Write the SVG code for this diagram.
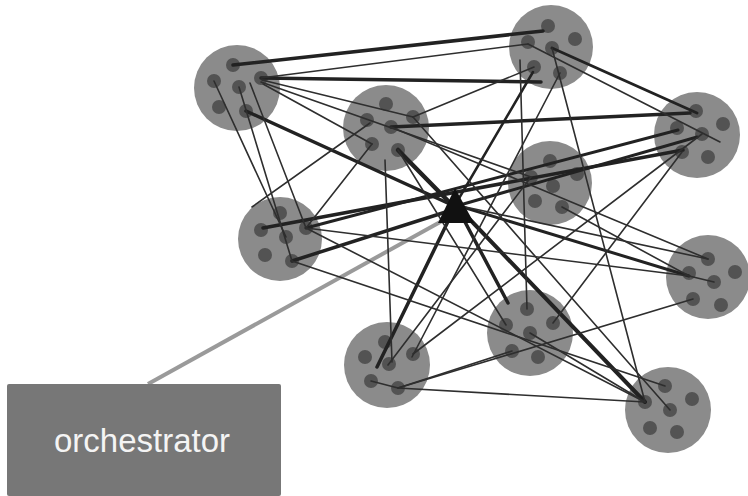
<svg xmlns="http://www.w3.org/2000/svg" width="748" height="496" viewBox="0 0 748 496">
  <style>
    .cl { fill: #8b8b8b; }
    .dot { fill: #535353; }
    .thick { stroke: #222; stroke-linecap: round; fill: none; }
    .thin { stroke: #2e2e2e; stroke-width: 1.6; stroke-linecap: round; fill: none; }
    .feed { stroke: #9a9a9a; stroke-width: 4; fill: none; }
    .label { font-family: "Liberation Sans", Arial, sans-serif; font-size: 33px; fill: #f4f4f4; }
  </style>

  <!-- clusters: a grey disc holding six member dots -->
  <g id="cluster-a">
    <circle class="cl" cx="237" cy="88" r="43"/>
    <circle class="dot" cx="233" cy="65" r="7"/><circle class="dot" cx="214" cy="81" r="7"/>
    <circle class="dot" cx="239" cy="87" r="7"/><circle class="dot" cx="261" cy="78" r="7"/>
    <circle class="dot" cx="219" cy="107" r="7"/><circle class="dot" cx="246" cy="111" r="7"/>
  </g>
  <g id="cluster-b">
    <circle class="cl" cx="386" cy="128" r="43"/>
    <circle class="dot" cx="386" cy="104" r="7"/><circle class="dot" cx="367" cy="120" r="7"/>
    <circle class="dot" cx="413" cy="117" r="7"/><circle class="dot" cx="391" cy="127" r="7"/>
    <circle class="dot" cx="372" cy="144" r="7"/><circle class="dot" cx="398" cy="150" r="7"/>
  </g>
  <g id="cluster-c">
    <circle class="cl" cx="551" cy="47" r="42"/>
    <circle class="dot" cx="548" cy="26" r="7"/><circle class="dot" cx="575" cy="39" r="7"/>
    <circle class="dot" cx="528" cy="42" r="7"/><circle class="dot" cx="552" cy="48" r="7"/>
    <circle class="dot" cx="534" cy="67" r="7"/><circle class="dot" cx="560" cy="73" r="7"/>
  </g>
  <g id="cluster-d">
    <circle class="cl" cx="697" cy="135" r="43"/>
    <circle class="dot" cx="696" cy="111" r="7"/><circle class="dot" cx="723" cy="124" r="7"/>
    <circle class="dot" cx="677" cy="128" r="7"/><circle class="dot" cx="702" cy="134" r="7"/>
    <circle class="dot" cx="682" cy="152" r="7"/><circle class="dot" cx="708" cy="157" r="7"/>
  </g>
  <g id="cluster-e">
    <circle class="cl" cx="550" cy="183" r="42"/>
    <circle class="dot" cx="550" cy="161" r="7"/><circle class="dot" cx="531" cy="177" r="7"/>
    <circle class="dot" cx="577" cy="174" r="7"/><circle class="dot" cx="553" cy="186" r="7"/>
    <circle class="dot" cx="535" cy="201" r="7"/><circle class="dot" cx="562" cy="207" r="7"/>
  </g>
  <g id="cluster-f">
    <circle class="cl" cx="280" cy="239" r="42"/>
    <circle class="dot" cx="280" cy="213" r="7"/><circle class="dot" cx="261" cy="230" r="7"/>
    <circle class="dot" cx="306" cy="228" r="7"/><circle class="dot" cx="286" cy="237" r="7"/>
    <circle class="dot" cx="265" cy="255" r="7"/><circle class="dot" cx="292" cy="261" r="7"/>
  </g>
  <g id="cluster-g">
    <circle class="cl" cx="708" cy="277" r="42"/>
    <circle class="dot" cx="708" cy="259" r="7"/><circle class="dot" cx="735" cy="272" r="7"/>
    <circle class="dot" cx="689" cy="273" r="7"/><circle class="dot" cx="714" cy="282" r="7"/>
    <circle class="dot" cx="693" cy="299" r="7"/><circle class="dot" cx="721" cy="305" r="7"/>
  </g>
  <g id="cluster-h">
    <circle class="cl" cx="387" cy="365" r="43"/>
    <circle class="dot" cx="385" cy="342" r="7"/><circle class="dot" cx="365" cy="357" r="7"/>
    <circle class="dot" cx="413" cy="354" r="7"/><circle class="dot" cx="389" cy="364" r="7"/>
    <circle class="dot" cx="371" cy="381" r="7"/><circle class="dot" cx="398" cy="388" r="7"/>
  </g>
  <g id="cluster-i">
    <circle class="cl" cx="530" cy="333" r="43"/>
    <circle class="dot" cx="527" cy="309" r="7"/><circle class="dot" cx="553" cy="323" r="7"/>
    <circle class="dot" cx="506" cy="325" r="7"/><circle class="dot" cx="530" cy="333" r="7"/>
    <circle class="dot" cx="512" cy="351" r="7"/><circle class="dot" cx="538" cy="357" r="7"/>
  </g>
  <g id="cluster-j">
    <circle class="cl" cx="668" cy="410" r="43"/>
    <circle class="dot" cx="665" cy="386" r="7"/><circle class="dot" cx="692" cy="399" r="7"/>
    <circle class="dot" cx="645" cy="402" r="7"/><circle class="dot" cx="670" cy="410" r="7"/>
    <circle class="dot" cx="650" cy="428" r="7"/><circle class="dot" cx="677" cy="432" r="7"/>
  </g>

  <!-- links between member dots and to the hub -->
  <g id="connectors">
    <line class="feed" x1="148" y1="384" x2="442" y2="221"/>

    <line class="thick" stroke-width="3.5" x1="233" y1="65" x2="543" y2="31"/>
    <line class="thick" stroke-width="3.5" x1="261" y1="78" x2="541" y2="82"/>
    <line class="thick" stroke-width="3.5" x1="246" y1="111" x2="452" y2="205"/>
    <line class="thick" stroke-width="4.5" x1="398" y1="150" x2="452" y2="205"/>
    <line class="thick" stroke-width="3.5" x1="391" y1="127" x2="690" y2="113"/>
    <line class="thick" stroke-width="3" x1="552" y1="48" x2="697" y2="113"/>
    <line class="thick" stroke-width="2.5" x1="458" y1="200" x2="533" y2="72"/>
    <line class="thick" stroke-width="3.5" x1="263" y1="228" x2="683" y2="150"/>
    <line class="thick" stroke-width="3" x1="306" y1="228" x2="678" y2="130"/>
    <line class="thick" stroke-width="3.5" x1="292" y1="261" x2="452" y2="210"/>
    <line class="thick" stroke-width="3" x1="456" y1="205" x2="689" y2="276"/>
    <line class="thick" stroke-width="3.5" x1="456" y1="205" x2="377" y2="367"/>
    <line class="thick" stroke-width="3.5" x1="456" y1="205" x2="508" y2="303"/>
    <line class="thick" stroke-width="4" x1="456" y1="205" x2="645" y2="402"/>
    <line class="thick" stroke-width="3" x1="460" y1="205" x2="697" y2="137"/>

    <line class="thin" x1="261" y1="78" x2="528" y2="44"/>
    <line class="thin" x1="262" y1="80" x2="413" y2="117"/>
    <line class="thin" x1="263" y1="84" x2="372" y2="144"/>
    <line class="thin" x1="261" y1="82" x2="531" y2="177"/>
    <line class="thin" x1="214" y1="81" x2="286" y2="237"/>
    <line class="thin" x1="239" y1="87" x2="292" y2="261"/>
    <line class="thin" x1="250" y1="83" x2="306" y2="228"/>
    <line class="thin" x1="370" y1="123" x2="252" y2="207"/>
    <line class="thin" x1="372" y1="144" x2="306" y2="228"/>
    <line class="thin" x1="385" y1="160" x2="392" y2="362"/>
    <line class="thin" x1="413" y1="117" x2="534" y2="67"/>
    <line class="thin" x1="391" y1="127" x2="708" y2="259"/>
    <line class="thin" x1="413" y1="117" x2="670" y2="410"/>
    <line class="thin" x1="398" y1="150" x2="506" y2="325"/>
    <line class="thin" x1="520" y1="60" x2="527" y2="309"/>
    <line class="thin" x1="552" y1="48" x2="645" y2="402"/>
    <line class="thin" x1="528" y1="44" x2="720" y2="142"/>
    <line class="thin" x1="562" y1="207" x2="689" y2="276"/>
    <line class="thin" x1="456" y1="205" x2="708" y2="259"/>
    <line class="thin" x1="306" y1="228" x2="689" y2="276"/>
    <line class="thin" x1="306" y1="228" x2="645" y2="402"/>
    <line class="thin" x1="292" y1="261" x2="665" y2="386"/>
    <line class="thin" x1="530" y1="333" x2="645" y2="402"/>
    <line class="thin" x1="682" y1="152" x2="553" y2="323"/>
    <line class="thin" x1="702" y1="134" x2="413" y2="354"/>
    <line class="thin" x1="398" y1="388" x2="512" y2="351"/>
    <line class="thin" x1="398" y1="388" x2="645" y2="402"/>
    <line class="thin" x1="693" y1="299" x2="398" y2="388"/>
    <line class="thin" x1="371" y1="381" x2="398" y2="388"/>
    <line class="thin" x1="531" y1="177" x2="388" y2="365"/>
    <line class="thin" x1="560" y1="73" x2="412" y2="357"/>
    <line class="thin" x1="689" y1="276" x2="714" y2="282"/>
  </g>

  <!-- hub -->
  <g id="hub">
    <polygon points="455,188 438,223 474,223" fill="#111"/>
  </g>

  <!-- orchestrator box -->
  <g id="orchestrator">
    <rect x="7" y="384" width="274" height="112" rx="2" fill="#777"/>
    <text class="label" x="54" y="452">orchestrator</text>
  </g>
</svg>
